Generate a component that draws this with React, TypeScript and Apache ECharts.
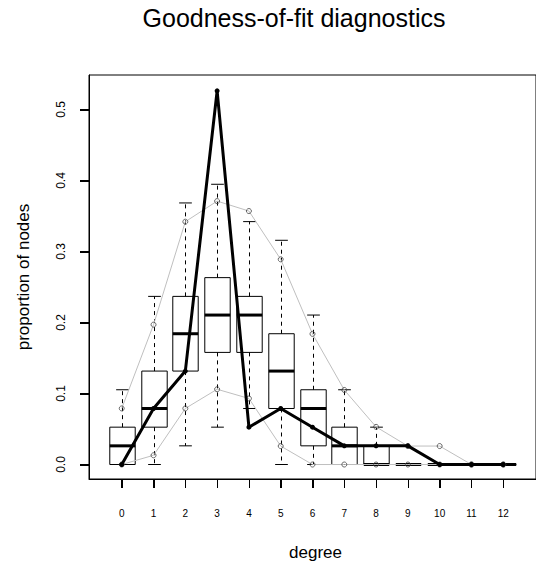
import React, { useEffect, useRef } from "react";
import * as echarts from "echarts";

// Degree categories shown on the x axis
const degrees = [0, 1, 2, 3, 4, 5, 6, 7, 8, 9, 10, 11, 12];
const degreeLabels = ["0", "1", "2", "3", "4", "5", "6", "7", "8", "9", "10", "11", "12"];
const yTicks = [0, 0.1, 0.2, 0.3, 0.4, 0.5];

// Simulated distributions: whisker ends, quartiles and medians
const whiskerLow = [0, 0, 0.0263, 0.0526, 0.0789, 0, 0, 0, 0, 0, 0, 0, 0];
const boxLow = [0, 0.0526, 0.1316, 0.1579, 0.1579, 0.0789, 0.0263, 0, 0, 0, 0, 0, 0];
const boxMedian = [0.0263, 0.0789, 0.1842, 0.2105, 0.2105, 0.1316, 0.0789, 0.0263, 0, 0, 0, 0, 0];
const boxHigh = [0.0526, 0.1316, 0.2368, 0.2632, 0.2368, 0.1842, 0.1053, 0.0526, 0.0263, 0, 0, 0, 0];
const whiskerHigh = [0.1053, 0.2368, 0.3684, 0.3947, 0.3421, 0.3158, 0.2105, 0.1053, 0.0526, 0, 0, 0, 0];

// 95% simulation bounds
const upperBound = [0.079, 0.197, 0.342, 0.371, 0.357, 0.289, 0.184, 0.105, 0.053, 0.026, 0.026, 0, 0];
const lowerBound = [0, 0.013, 0.079, 0.106, 0.093, 0.026, 0, 0, 0, 0, 0, 0, 0];

// Observed network
const observed = [0, 0.0789, 0.1316, 0.5263, 0.0526, 0.0789, 0.0526, 0.0263, 0.0263, 0.0263, 0, 0, 0];

const FONT = "Liberation Sans, Arial, Helvetica, sans-serif";
const TICK_LEN = 9;
const X_MIN = -1.03;
const X_MAX = 13.03;
const Y_MIN = -0.0204;
const Y_MAX = 0.5486;

export default function App() {
  const ref = useRef<HTMLDivElement>(null);

  useEffect(() => {
    if (!ref.current) return;
    const chart = echarts.init(ref.current, null, { renderer: "svg" });

    const boxData = degrees.map((d, i) => [
      d,
      whiskerLow[i],
      boxLow[i],
      boxMedian[i],
      boxHigh[i],
      whiskerHigh[i],
    ]);

    const renderBox = (params: any, api: any) => {
      const x = api.value(0);
      const lo = api.coord([x, api.value(1)]);
      const q1 = api.coord([x, api.value(2)]);
      const md = api.coord([x, api.value(3)]);
      const q3 = api.coord([x, api.value(4)]);
      const hi = api.coord([x, api.value(5)]);
      const halfBox = api.size([0.4, 0])[0];
      const halfCap = halfBox / 2;
      const cx = Math.round(lo[0]) + 0.5;
      const dashed = { stroke: "#000", lineWidth: 1, lineDash: [4, 4] };
      const solid = { stroke: "#000", lineWidth: 1 };
      return {
        type: "group",
        children: [
          { type: "line", shape: { x1: cx, y1: q3[1], x2: cx, y2: hi[1] }, style: dashed },
          { type: "line", shape: { x1: cx, y1: q1[1], x2: cx, y2: lo[1] }, style: dashed },
          { type: "line", shape: { x1: cx - halfCap, y1: hi[1], x2: cx + halfCap, y2: hi[1] }, style: solid },
          { type: "line", shape: { x1: cx - halfCap, y1: lo[1], x2: cx + halfCap, y2: lo[1] }, style: solid },
          {
            type: "rect",
            shape: { x: cx - halfBox, y: q3[1], width: halfBox * 2, height: q1[1] - q3[1] },
            style: { fill: "none", stroke: "#000", lineWidth: 1 },
          },
          {
            type: "line",
            shape: { x1: cx - halfBox, y1: md[1], x2: cx + halfBox, y2: md[1] },
            style: { stroke: "#000", lineWidth: 3 },
          },
        ],
      };
    };

    const pairs = (arr: number[]) => degrees.map((d, i) => [d, arr[i]]);

    const titles: any[] = [
      {
        type: "text",
        id: "title",
        x: 294,
        y: 18,
        style: {
          text: "Goodness-of-fit diagnostics",
          fontSize: 25,
          fontFamily: FONT,
          fill: "#000",
          textAlign: "center",
          textVerticalAlign: "middle",
        },
      },
      {
        type: "text",
        id: "xname",
        x: 315.5,
        y: 552,
        style: {
          text: "degree",
          fontSize: 17,
          fontFamily: FONT,
          fill: "#000",
          textAlign: "center",
          textVerticalAlign: "middle",
        },
      },
      {
        type: "text",
        id: "yname",
        x: 23,
        y: 277,
        rotation: Math.PI / 2,
        style: {
          text: "proportion of nodes",
          fontSize: 17,
          fontFamily: FONT,
          fill: "#000",
          textAlign: "center",
          textVerticalAlign: "middle",
        },
      },
    ];

    const tickStyle = {
      show: true,
      inside: false,
      length: TICK_LEN,
      lineStyle: { color: "#000", width: 1 },
    };

    chart.setOption({
      animation: false,
      backgroundColor: "#fff",
      textStyle: { fontFamily: FONT },
      grid: {
        left: 89,
        top: 75,
        width: 453,
        height: 404,
        show: true,
        borderColor: "#000",
        borderWidth: 1,
        backgroundColor: "transparent",
      },
      xAxis: {
        type: "value",
        min: X_MIN,
        max: X_MAX,
        position: "bottom",
        splitLine: { show: false },
        axisLine: { show: true, onZero: false, lineStyle: { color: "#000", width: 1 } },
        axisTick: { ...tickStyle, customValues: degrees },
        axisLabel: {
          show: true,
          margin: 29,
          fontSize: 10,
          color: "#000",
          fontFamily: FONT,
          customValues: degrees,
          formatter: (v: number) => degreeLabels[degrees.indexOf(Math.round(v))] ?? "",
        },
      },
      yAxis: {
        type: "value",
        min: Y_MIN,
        max: Y_MAX,
        position: "left",
        splitLine: { show: false },
        axisLine: { show: true, onZero: false, lineStyle: { color: "#000", width: 1 } },
        axisTick: { ...tickStyle, customValues: yTicks },
        axisLabel: {
          show: true,
          rotate: 90,
          margin: 22,
          fontSize: 12,
          color: "#000",
          fontFamily: FONT,
          customValues: yTicks,
          formatter: (v: number) => v.toFixed(1),
        },
      },
      graphic: titles,
      series: [
        {
          type: "custom",
          name: "simulated",
          renderItem: renderBox,
          encode: { x: 0, y: [1, 2, 3, 4, 5] },
          data: boxData,
          z: 1,
        },
        {
          type: "line",
          name: "upper",
          data: pairs(upperBound),
          symbol: "none",
          lineStyle: { color: "#bfbfbf", width: 1 },
          z: 2,
        },
        {
          type: "line",
          name: "lower",
          data: pairs(lowerBound),
          symbol: "none",
          lineStyle: { color: "#bfbfbf", width: 1 },
          z: 2,
        },
        {
          type: "scatter",
          name: "upperPts",
          data: pairs(upperBound),
          symbol: "circle",
          symbolSize: 5,
          itemStyle: { color: "rgba(0,0,0,0)", borderColor: "#444", borderWidth: 1 },
          z: 3,
        },
        {
          type: "scatter",
          name: "lowerPts",
          data: pairs(lowerBound),
          symbol: "circle",
          symbolSize: 5,
          itemStyle: { color: "rgba(0,0,0,0)", borderColor: "#444", borderWidth: 1 },
          z: 3,
        },
        {
          type: "line",
          name: "observed",
          data: pairs(observed),
          symbol: "circle",
          symbolSize: 5,
          showSymbol: true,
          itemStyle: { color: "#000", borderColor: "#000", borderWidth: 0 },
          lineStyle: { color: "#000", width: 3 },
          z: 4,
        },
      ],
    });

    // Outward tick marks on the frame, positioned through the axis scales
    const tickRects: any[] = [];
    degrees.forEach((d, i) => {
      const p = chart.convertToPixel({ gridIndex: 0 }, [d, Y_MIN]) as number[];
      tickRects.push({
        type: "rect",
        id: "xt" + i,
        shape: { x: Math.round(p[0]), y: Math.round(p[1]), width: 1, height: TICK_LEN },
        style: { fill: "#000" },
        z: 100,
      });
    });
    yTicks.forEach((v, i) => {
      const p = chart.convertToPixel({ gridIndex: 0 }, [X_MIN, v]) as number[];
      tickRects.push({
        type: "rect",
        id: "yt" + i,
        shape: { x: Math.round(p[0]) - TICK_LEN, y: Math.round(p[1]), width: TICK_LEN, height: 1 },
        style: { fill: "#000" },
        z: 100,
      });
    });
    chart.setOption({ graphic: [...titles, ...tickRects] });

    return () => chart.dispose();
  }, []);

  return (
    <div
      ref={ref}
      style={{ position: "absolute", left: 0, top: 0, width: 536, height: 567 }}
    />
  );
}
